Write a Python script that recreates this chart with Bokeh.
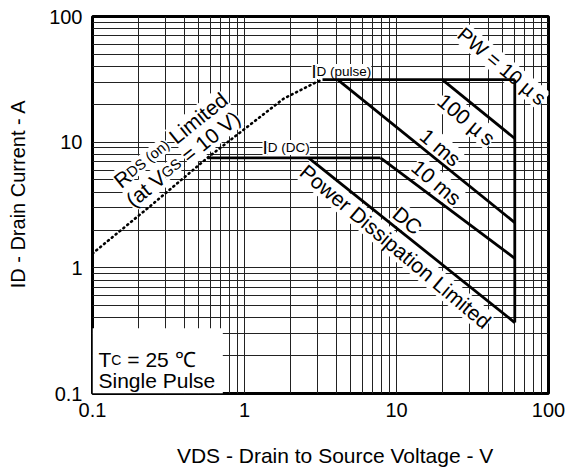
import math
from bokeh.plotting import figure
from bokeh.models import Label, FixedTicker, Range1d
from bokeh.embed import file_html
from bokeh.resources import INLINE

# ---------------- data ----------------
x_ticks = [0.1, 1, 10, 100]
x_tick_labels = ["0.1", "1", "10", "100"]
y_ticks = [0.1, 1, 10, 100]
y_tick_labels = ["0.1", "1", "10", "100"]
minor_mult = [2, 3, 4, 5, 6, 7, 8, 9]

# RDS(on) limited (dotted)
rds_v = [0.1, 0.24, 0.57, 1.81, 2.93, 3.26]
rds_i = [1.3, 3.1, 7.5, 22.2, 29.8, 31.5]

id_pulse = 31.5
id_dc = 7.5
vdss = 60

pulse_v = [3.26, 60]          # ID(pulse) limit
iddc_v = [0.57, 7.85]         # ID(DC) limit
us100_v = [20, 60]
us100_i = [31.5, 10.7]
ms1_v = [4.1, 60]
ms1_i = [31.5, 2.29]
ms10_v = [7.85, 60]
ms10_i = [7.5, 1.19]
dc_v = [2.64, 60]
dc_i = [7.5, 0.367]

box_v = [0.1, 0.72]           # white note box (Tc / Single Pulse)
box_i = [0.1, 0.33]

x_title = "VDS - Drain to Source Voltage - V"
y_title = "ID - Drain Current - A"

FONT = "Liberation Sans"
NBSP = "\u00a0"

# ---------------- figure ----------------
p = figure(x_axis_type="log", y_axis_type="log",
           x_range=Range1d(0.1, 100), y_range=Range1d(0.1, 100),
           frame_width=456, frame_height=377,
           min_border_left=92, min_border_right=26,
           min_border_top=16, min_border_bottom=75,
           output_backend="svg", toolbar_location=None)
p.background_fill_color = "white"
p.border_fill_color = "white"
p.outline_line_color = "black"
p.outline_line_width = 3

minor = [m * t for t in x_ticks[:-1] for m in minor_mult]
p.xaxis.ticker = FixedTicker(ticks=x_ticks, minor_ticks=minor)
p.yaxis.ticker = FixedTicker(ticks=y_ticks, minor_ticks=minor)
p.xaxis.major_label_overrides = dict(zip(x_ticks, x_tick_labels))
p.yaxis.major_label_overrides = dict(zip(y_ticks, y_tick_labels))
for ax in (p.xaxis, p.yaxis):
    ax.axis_line_color = None
    ax.major_tick_line_color = None
    ax.minor_tick_line_color = None
    ax.major_tick_out = 0
    ax.major_tick_in = 0
    ax.minor_tick_out = 0
    ax.minor_tick_in = 0
    ax.major_label_text_font = FONT
    ax.major_label_text_font_size = "20px"
    ax.major_label_text_color = "black"
    ax.axis_label_text_font = FONT
    ax.axis_label_text_font_style = "normal"
    ax.axis_label_text_color = "black"
p.xaxis.major_label_standoff = 9
p.yaxis.major_label_standoff = 10
# leading no-break spaces nudge the centred titles to where the reference has them
p.xaxis.axis_label = NBSP * 5 + x_title
p.yaxis.axis_label = NBSP * 4 + y_title
p.xaxis.axis_label_text_font_size = "21px"
p.yaxis.axis_label_text_font_size = "20px"
p.xaxis.axis_label_standoff = 24
p.yaxis.axis_label_standoff = 17

for g in (p.xgrid, p.ygrid):
    g.grid_line_color = "#222222"
    g.grid_line_width = 1
    g.minor_grid_line_color = "#222222"
    g.minor_grid_line_width = 1

# white note box
p.quad(left=box_v[0], right=box_v[1], bottom=box_i[0], top=box_i[1],
       fill_color="white", line_color=None)

LW = 2.8
kw = dict(line_color="black", line_width=LW, level="overlay")
p.line(rds_v, rds_i, line_color="black", line_width=2.6, line_dash="1 4",
       line_cap="round", level="overlay")
p.line(pulse_v, [id_pulse, id_pulse], **kw)
p.line(iddc_v, [id_dc, id_dc], **kw)
p.line([vdss, vdss], [dc_i[-1], id_pulse], **kw)
p.line(us100_v, us100_i, **kw)
p.line(ms1_v, ms1_i, **kw)
p.line(ms10_v, ms10_i, **kw)
p.line(dc_v, dc_i, **kw)

# ---------------- text helpers ----------------
W = {' ': 278, '(': 333, ')': 333, '-': 333, '=': 584, '.': 278, 'µ': 576,
     '\u2009': 170, '℃': 1000,
     'A': 667, 'C': 722, 'D': 722, 'G': 778, 'I': 278, 'L': 556, 'P': 667,
     'R': 722, 'S': 667, 'T': 611, 'V': 667, 'W': 944,
     'a': 556, 'c': 500, 'd': 556, 'e': 556, 'g': 556, 'i': 222, 'l': 222,
     'm': 833, 'n': 556, 'o': 556, 'p': 556, 'r': 333, 's': 500, 't': 278,
     'u': 556}


def tw(s, size):
    return sum(W.get(c, 556) for c in s) * size / 1000.0


def to_data(px, py):
    # canvas pixel -> data coordinates (frame spans x 92..548, y 16..393)
    return 10 ** ((px - 92) / 152.0 - 1), 10 ** ((393 - py) / (377 / 3.0) - 1)


def put(parts, px, py, angle=0.0, bg=True):
    a = math.radians(angle)
    ca, sa = math.cos(a), math.sin(a)
    for text, size in parts:
        body = text.lstrip(" ")
        lead = tw(text[:len(text) - len(body)], size)
        px += lead * ca
        py -= lead * sa
        x, y = to_data(px, py)
        lab = Label(x=x, y=y, text=body, angle=a,
                    text_font=FONT, text_font_size=f"{size}px",
                    text_color="black", text_align="left",
                    text_baseline="alphabetic")
        if bg:
            lab.background_fill_color = "white"
        p.add_layout(lab)
        w = tw(body, size)
        px += w * ca
        py -= w * sa


def put_c(text, size, px, py, angle=0.0, bg=True):
    x, y = to_data(px, py)
    lab = Label(x=x, y=y, text=text, angle=math.radians(angle),
                text_font=FONT, text_font_size=f"{size}px",
                text_color="black", text_align="center",
                text_baseline="middle")
    if bg:
        lab.background_fill_color = "white"
    p.add_layout(lab)


# in-chart annotations
put([("I", 18), ("D (pulse)", 13.5)], 311, 71)
put([("I", 19), ("D (DC)", 13.5)], 262, 147)
put([("R", 21), ("DS (on)", 14.5), (" Limited", 21)], 116, 183, 38.7)
put([("(at V", 21), ("GS", 14.5), (" = 10 V)", 21)], 128, 202, 38.7)
put([("PW = 10 µ\u2009s", 20)], 460, 31, -40)
put_c("100 µ\u2009s", 21, 466, 119, -40)
put_c("1 ms", 21, 440, 147, -40)
put_c("10 ms", 21, 436, 182, -40)
put_c("DC", 21, 407, 220, -40)
put_c("Power Dissipation Limited", 21, 395, 246, -40)
put([("T", 21), ("C", 14), (" = 25 ℃", 21)], 98, 359, 0, bg=False)
put([("Single Pulse", 21)], 98, 380, 0, bg=False)

open("out.html", "w").write(file_html(p, INLINE))
